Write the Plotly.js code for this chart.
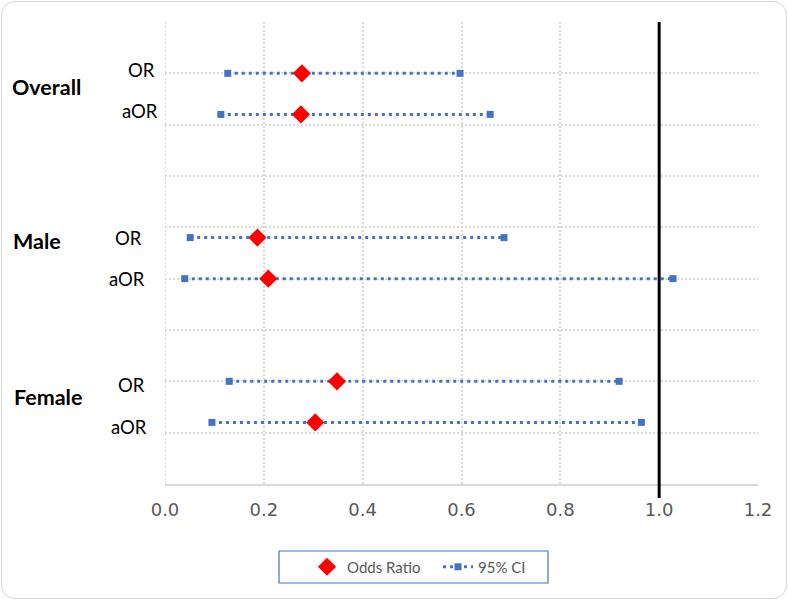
<!DOCTYPE html>
<html>
<head>
<meta charset="utf-8">
<script src="https://cdn.plot.ly/plotly-3.0.1.min.js"></script>
<style>
  html, body { margin: 0; padding: 0; background: #ffffff; }
  #wrap { position: relative; width: 788px; height: 600px; }
  #chart { position: absolute; left: 0; top: 0; width: 788px; height: 600px; }
  #frame { position: absolute; left: 1px; top: 1px; width: 786px; height: 598px; box-sizing: border-box;
           border: 1.5px solid #d6d6d6; border-radius: 14px; pointer-events: none; }
</style>
</head>
<body>
<div id="wrap">
  <div id="chart"></div>
  <div id="frame"></div>
</div>
<script>
// ---- data ----
const groups = ['Overall', 'Male', 'Female'];
const rowLabels = ['OR', 'aOR', 'OR', 'aOR', 'OR', 'aOR'];
const rowY = [8, 7.2, 4.8, 4, 2, 1.2];
const oddsRatio = [0.277, 0.275, 0.187, 0.209, 0.348, 0.304];
const ciLow = [0.127, 0.113, 0.051, 0.040, 0.130, 0.095];
const ciHigh = [0.597, 0.658, 0.686, 1.028, 0.919, 0.964];
const xTickVals = [0, 0.2, 0.4, 0.6, 0.8, 1.0, 1.2];
const xTickText = ['0.0', '0.2', '0.4', '0.6', '0.8', '1.0', '1.2'];
const refValue = 1.0;
const seriesNames = ['Odds Ratio', '95% CI'];

// ---- layout helpers (pixel -> paper) ----
const PL = 165, PR = 758, PT = 22, PB = 484;
const fx = px => (px - PL) / (PR - PL);
const fy = py => (PB - py) / (PB - PT);

// CI segments separated by gaps
const ciX = [], ciY = [];
for (let i = 0; i < rowY.length; i++) {
  ciX.push(ciLow[i], ciHigh[i], null);
  ciY.push(rowY[i], rowY[i], null);
}

const traces = [
  {
    type: 'scatter', mode: 'lines+markers', name: seriesNames[1],
    x: ciX, y: ciY, connectgaps: false, legendrank: 2,
    line: { color: '#4472C4', width: 3, dash: '3px,4px' },
    marker: { symbol: 'square', size: 7, color: '#4472C4' },
    hoverinfo: 'x'
  },
  {
    type: 'scatter', mode: 'markers', name: seriesNames[0],
    x: oddsRatio, y: rowY, legendrank: 1,
    marker: { symbol: 'diamond', size: 14, color: '#FF0000' },
    hoverinfo: 'x'
  }
];

// row label pixel positions (centers)
const rowLabelPos = [[141, 70], [139.5, 111], [128, 238], [126.5, 279], [131, 385], [129, 427]];
const groupLabelPos = [[10, 87], [11, 241], [12, 397]];

const annotations = [];
rowLabels.forEach((t, i) => annotations.push({
  text: t, xref: 'paper', yref: 'paper',
  x: fx(rowLabelPos[i][0]), y: fy(rowLabelPos[i][1]),
  xanchor: 'center', yanchor: 'middle', showarrow: false,
  font: { family: 'Lato, "Open Sans", sans-serif', size: 18.5, color: '#000000' }
}));
groups.forEach((t, i) => annotations.push({
  text: '<b>' + t + '</b>', xref: 'paper', yref: 'paper',
  x: fx(groupLabelPos[i][0]), y: fy(groupLabelPos[i][1]),
  xanchor: 'left', yanchor: 'middle', showarrow: false,
  font: { family: 'Lato, "Open Sans", sans-serif', size: 21.5, color: '#000000' }
}));

const layout = {
  width: 788, height: 600,
  margin: { l: PL, r: 788 - PR, t: PT, b: 600 - PB, pad: 0 },
  paper_bgcolor: 'rgba(0,0,0,0)', plot_bgcolor: '#ffffff',
  showlegend: true,
  legend: {
    orientation: 'h', x: fx(307), y: fy(567), xanchor: 'left', yanchor: 'middle',
    bgcolor: 'rgba(0,0,0,0)', borderwidth: 0, entrywidth: 86,
    font: { family: 'Lato, "Open Sans", sans-serif', size: 15, color: '#595959' }
  },
  xaxis: {
    range: [0, 1.2], tickvals: xTickVals, ticktext: xTickText,
    showgrid: true, gridcolor: '#d9d9d9', gridwidth: 2, griddash: '2px,2px',
    zeroline: false, showline: true, linecolor: '#d9d9d9', linewidth: 1.5,
    ticks: '', ticklabelstandoff: 9,
    tickfont: { family: '"DejaVu Sans", sans-serif', size: 18, color: '#595959' },
    fixedrange: true
  },
  yaxis: {
    range: [0, 9], dtick: 1, tick0: 0, showticklabels: false,
    showgrid: true, gridcolor: '#d9d9d9', gridwidth: 2, griddash: '2px,2px',
    zeroline: false, showline: false, ticks: '', fixedrange: true
  },
  shapes: [
    { type: 'line', xref: 'x', yref: 'paper', x0: 0, x1: 0, y0: 0, y1: 1,
      line: { color: '#d9d9d9', width: 2, dash: '2px,2px' }, layer: 'below' },
    { type: 'line', xref: 'x', yref: 'paper', x0: refValue, x1: refValue, y0: fy(498), y1: 1,
      line: { color: '#000000', width: 3 }, layer: 'above' },
    { type: 'rect', xref: 'paper', yref: 'paper', x0: fx(279), x1: fx(548), y0: fy(583), y1: fy(551),
      line: { color: '#4472C4', width: 1.2 }, fillcolor: 'rgba(0,0,0,0)' }
  ],
  annotations: annotations
};

Plotly.newPlot('chart', traces, layout, { displayModeBar: false, staticPlot: true });
</script>
</body>
</html>
